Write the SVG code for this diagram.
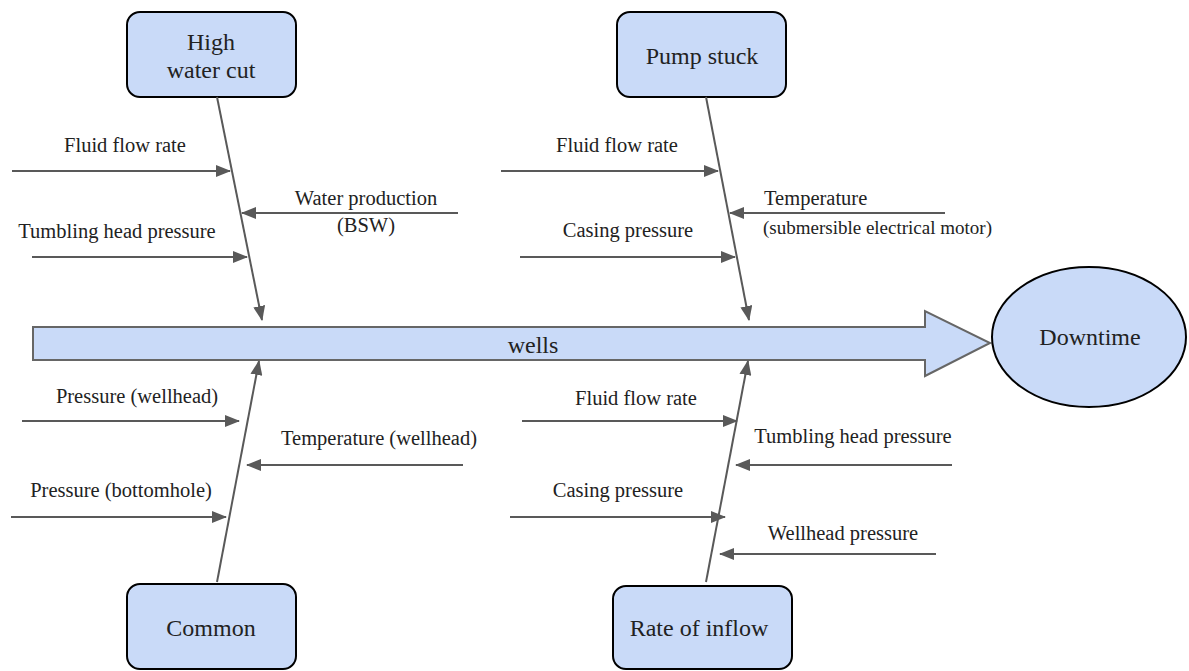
<svg xmlns="http://www.w3.org/2000/svg" width="1189" height="671" viewBox="0 0 1189 671">
  <style>
    .box { fill: #c9daf8; stroke: #000; stroke-width: 2; }
    .spine { fill: #c9daf8; stroke: #666; stroke-width: 2; stroke-linejoin: miter; }
    .bone, .sub { stroke: #595959; stroke-width: 2; fill: none; marker-end: url(#tip); }
  </style>
  <defs>
    <marker id="tip" markerUnits="userSpaceOnUse" markerWidth="16" markerHeight="12" refX="14" refY="6" orient="auto">
      <path d="M0,0 L15,6 L0,12 Z" fill="#595959"/>
    </marker>
  </defs>
  <rect width="1189" height="671" fill="#fff"/>

  <!-- main spine -->
  <g id="spine">
    <path class="spine" d="M33,327 L925,327 L925,311 L990,343 L925,376 L925,360 L33,360 Z"/>
    <text x="533" y="353" font-family="Liberation Serif, serif" font-size="24" fill="#222" text-anchor="middle">wells</text>
  </g>

  <!-- effect -->
  <g id="downtime">
    <ellipse class="box" cx="1089" cy="337" rx="97" ry="70"/>
    <text x="1090" y="345" font-family="Liberation Serif, serif" font-size="24" fill="#222" text-anchor="middle">Downtime</text>
  </g>

  <!-- category boxes -->
  <g id="high-water-cut">
    <rect class="box" x="127" y="12" width="169" height="85" rx="13"/>
    <text x="211" y="50" font-family="Liberation Serif, serif" font-size="24" fill="#222" text-anchor="middle">High</text>
    <text x="211" y="78" font-family="Liberation Serif, serif" font-size="24" fill="#222" text-anchor="middle">water cut</text>
  </g>
  <g id="pump-stuck">
    <rect class="box" x="617" y="12" width="169" height="85" rx="13"/>
    <text x="702" y="64" font-family="Liberation Serif, serif" font-size="24" fill="#222" text-anchor="middle">Pump stuck</text>
  </g>
  <g id="common">
    <rect class="box" x="127" y="584" width="169" height="85" rx="13"/>
    <text x="211" y="636" font-family="Liberation Serif, serif" font-size="24" fill="#222" text-anchor="middle">Common</text>
  </g>
  <g id="rate-of-inflow">
    <rect class="box" x="613" y="586" width="179" height="83" rx="13"/>
    <text x="699" y="636" font-family="Liberation Serif, serif" font-size="24" fill="#222" text-anchor="middle">Rate of inflow</text>
  </g>

  <!-- bones and cause arrows -->
  <g id="connectors">
    <line class="bone" x1="217" y1="97" x2="262" y2="320"/>
    <line class="bone" x1="706" y1="97" x2="749" y2="320"/>
    <line class="bone" x1="217" y1="582" x2="259" y2="361"/>
    <line class="bone" x1="706" y1="582" x2="748" y2="361"/>

    <line class="sub" x1="12" y1="171" x2="230" y2="171"/>
    <line class="sub" x1="32" y1="257" x2="247" y2="257"/>
    <line class="sub" x1="458" y1="213" x2="242" y2="213"/>

    <line class="sub" x1="501" y1="171" x2="718" y2="171"/>
    <line class="sub" x1="520" y1="257" x2="735" y2="257"/>
    <line class="sub" x1="945" y1="213" x2="730" y2="213"/>

    <line class="sub" x1="22" y1="421" x2="239" y2="421"/>
    <line class="sub" x1="463" y1="465" x2="247" y2="465"/>
    <line class="sub" x1="11" y1="517" x2="226" y2="517"/>

    <line class="sub" x1="522" y1="421" x2="737" y2="421"/>
    <line class="sub" x1="952" y1="465" x2="736" y2="465"/>
    <line class="sub" x1="510" y1="517" x2="725" y2="517"/>
    <line class="sub" x1="936" y1="554" x2="720" y2="554"/>
  </g>

  <!-- cause labels -->
  <g id="labels" font-family="Liberation Serif, serif" font-size="20.5" fill="#222" text-anchor="middle">
    <text x="125" y="152">Fluid flow rate</text>
    <text x="117" y="238">Tumbling head pressure</text>
    <text x="366" y="205">Water production</text>
    <text x="366" y="232">(BSW)</text>

    <text x="617" y="152">Fluid flow rate</text>
    <text x="628" y="237">Casing pressure</text>
    <text x="764" y="205" text-anchor="start">Temperature</text>
    <text x="763" y="234" text-anchor="start" font-size="19">(submersible electrical motor)</text>

    <text x="137" y="403">Pressure (wellhead)</text>
    <text x="379" y="445">Temperature (wellhead)</text>
    <text x="121" y="497">Pressure (bottomhole)</text>

    <text x="636" y="405">Fluid flow rate</text>
    <text x="853" y="443">Tumbling head pressure</text>
    <text x="618" y="497">Casing pressure</text>
    <text x="843" y="540">Wellhead pressure</text>
  </g>
</svg>
